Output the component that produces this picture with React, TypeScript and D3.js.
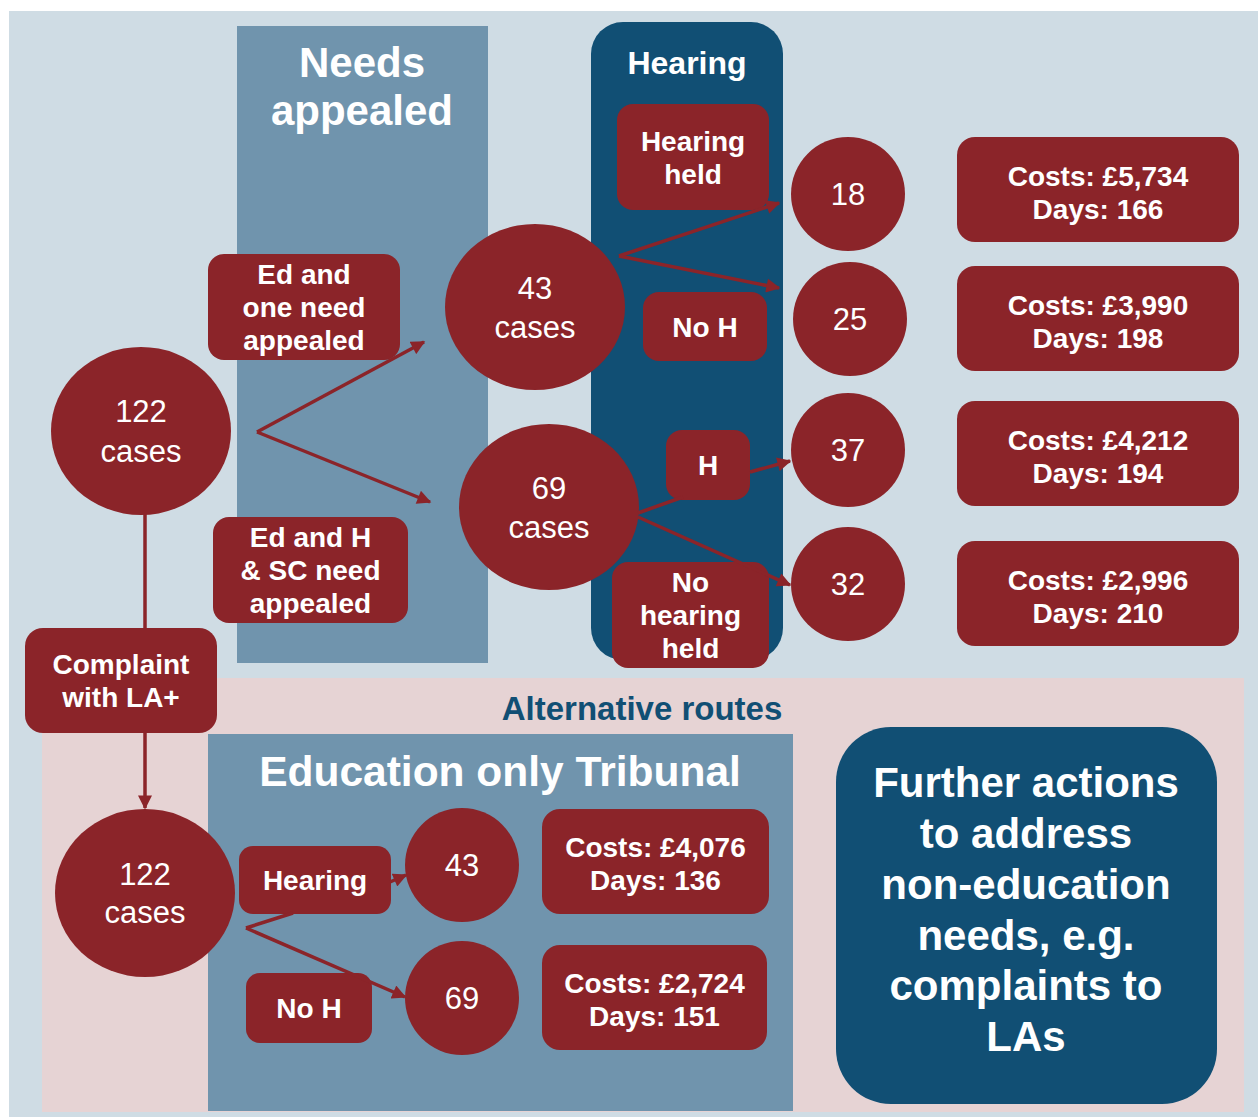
import React from "react";
import * as d3 from "d3";

// ---- Data ----
const topRoot = { value: 122, label: "cases" };
const needBranches = ["Ed and one need appealed", "Ed and H & SC need appealed"];
const needCases = [43, 69];
const hearingLabels = ["Hearing held", "No H", "H", "No hearing held"];
const outcomeCases = [18, 25, 37, 32];
const outcomeCosts = ["£5,734", "£3,990", "£4,212", "£2,996"];
const outcomeDays = [166, 198, 194, 210];
const complaintLabel = "Complaint with LA+";
const bottomRoot = { value: 122, label: "cases" };
const eduLabels = ["Hearing", "No H"];
const eduCases = [43, 69];
const eduCosts = ["£4,076", "£2,724"];
const eduDays = [136, 151];
const titles = {
  needs: ["Needs", "appealed"],
  hearing: "Hearing",
  alt: "Alternative routes",
  edu: "Education only Tribunal",
  further: ["Further actions", "to address", "non-education", "needs, e.g.", "complaints to", "LAs"],
};

const RED = "#8b2429";
const DARK = "#114f74";
const MID = "#7094ad";
const LIGHT = "#cfdce4";
const PINK = "#e6d3d4";
const FONT = "'Liberation Sans', Arial, sans-serif";

type TextProps = { cx: number; cy: number; lines: string[]; size: number; lh: number; bold?: boolean; fill?: string };
function MText({ cx, cy, lines, size, lh, bold = true, fill = "#fff" }: TextProps) {
  const n = lines.length;
  return (
    <g>
      {lines.map((l, i) => (
        <text
          key={i}
          x={cx}
          y={cy + (i - (n - 1) / 2) * lh + size * 0.36}
          textAnchor="middle"
          fontFamily={FONT}
          fontWeight={bold ? 700 : 400}
          fontSize={size}
          fill={fill}
        >
          {l}
        </text>
      ))}
    </g>
  );
}

function Box({ x, y, w, h, r = 16, lines, size = 28, lh = 33, cyOff = 0 }: any) {
  return (
    <g>
      <rect x={x} y={y} width={w} height={h} rx={r} fill={RED} />
      <MText cx={x + w / 2} cy={y + h / 2 + cyOff} lines={lines} size={size} lh={lh} />
    </g>
  );
}

function Circ({ cx, cy, rx, ry, lines, size = 31, lh = 39 }: any) {
  return (
    <g>
      <ellipse cx={cx} cy={cy} rx={rx} ry={ry} fill={RED} />
      <MText cx={cx} cy={cy} lines={lines} size={size} lh={lh} bold={false} />
    </g>
  );
}

const line = d3.line<[number, number]>();

function splitTwo(s: string): string[] {
  if (s === "Ed and one need appealed") return ["Ed and", "one need", "appealed"];
  if (s === "Ed and H & SC need appealed") return ["Ed and H", "& SC need", "appealed"];
  if (s === "Hearing held") return ["Hearing", "held"];
  if (s === "No hearing held") return ["No", "hearing", "held"];
  if (s === "Complaint with LA+") return ["Complaint", "with LA+"];
  return [s];
}

export default function App() {
  const arrows: { pts: [number, number][]; head: boolean }[] = [
    { pts: [[257, 432], [424, 342]], head: true },
    { pts: [[257, 432], [430, 502]], head: true },
    { pts: [[619, 256], [779, 203]], head: true },
    { pts: [[619, 256], [779, 288]], head: true },
    { pts: [[638, 513], [683, 497]], head: false },
    { pts: [[750, 472], [790, 461]], head: true },
    { pts: [[638, 517], [790, 585]], head: true },
    { pts: [[145, 512], [145, 630]], head: false },
    { pts: [[145, 732], [145, 808]], head: true },
    { pts: [[246, 928], [293, 913]], head: false },
    { pts: [[246, 928], [405, 997]], head: true },
    { pts: [[390, 882], [406, 875]], head: true },
  ];

  const outY = [194, 319, 450, 584];
  const outX = [848, 850, 848, 848];
  const costY = [137, 266, 401, 541];
  const eduY = [865, 998];
  const eduCostY = [809, 945];

  return (
    <svg width={1258} height={1117} style={{ position: "absolute", left: 0, top: 0 }}>
      <defs>
        <marker id="ah" viewBox="0 0 10 10" refX="9" refY="5" markerWidth="4.2" markerHeight="4" orient="auto" markerUnits="strokeWidth">
          <path d="M0,0 L10,5 L0,10 z" fill={RED} />
        </marker>
      </defs>
      <rect x={0} y={0} width={1258} height={1117} fill="#fff" />
      <rect x={9} y={11} width={1249} height={1106} fill={LIGHT} />
      <rect x={42} y={678} width={1202} height={434} fill={PINK} />
      {/* Needs appealed panel */}
      <rect x={237} y={26} width={251} height={637} fill={MID} />
      <MText cx={362} cy={86} lines={titles.needs} size={42} lh={48} />
      {/* Hearing panel */}
      <rect x={591} y={22} width={192} height={638} rx={32} fill={DARK} />
      <MText cx={687} cy={62} lines={[titles.hearing]} size={32} lh={36} />
      {/* Alternative routes */}
      <MText cx={642} cy={708} lines={[titles.alt]} size={33} lh={36} fill={DARK} />
      {/* Education only panel */}
      <rect x={208} y={734} width={585} height={377} fill={MID} />
      <MText cx={500} cy={771} lines={[titles.edu]} size={42.5} lh={46} />
      {/* Further actions */}
      <rect x={836} y={727} width={381} height={377} rx={55} fill={DARK} />
      <MText cx={1026} cy={909} lines={titles.further} size={42} lh={50.8} />

      {/* Top root */}
      <Circ cx={141} cy={431} rx={90} ry={84} lines={[String(topRoot.value), topRoot.label]} lh={40} />
      <Box x={208} y={254} w={192} h={106} lines={splitTwo(needBranches[0])} />
      <Box x={213} y={517} w={195} h={106} lines={splitTwo(needBranches[1])} />
      <Circ cx={535} cy={307} rx={90} ry={83} lines={[String(needCases[0]), "cases"]} />
      <Circ cx={549} cy={507} rx={90} ry={83} lines={[String(needCases[1]), "cases"]} />

      <Box x={617} y={104} w={152} h={106} lines={splitTwo(hearingLabels[0])} />
      <Box x={643} y={292} w={124} h={69} lines={splitTwo(hearingLabels[1])} />
      <Box x={666} y={430} w={84} h={70} lines={splitTwo(hearingLabels[2])} />
      <Box x={612} y={562} w={157} h={106} lines={splitTwo(hearingLabels[3])} />

      {outcomeCases.map((v, i) => (
        <Circ key={"o" + i} cx={outX[i]} cy={outY[i]} rx={57} ry={57} lines={[String(v)]} />
      ))}
      {outcomeCosts.map((c, i) => (
        <Box key={"c" + i} x={957} y={costY[i]} w={282} h={105} r={18} lines={["Costs: " + c, "Days: " + outcomeDays[i]]} cyOff={3} />
      ))}

      <Box x={25} y={628} w={192} h={105} r={18} lines={splitTwo(complaintLabel)} />
      <Circ cx={145} cy={893} rx={90} ry={84} lines={[String(bottomRoot.value), bottomRoot.label]} lh={38} />
      <Box x={239} y={846} w={152} h={68} r={14} lines={[eduLabels[0]]} />
      <Box x={246} y={973} w={126} h={70} r={14} lines={[eduLabels[1]]} />
      {eduCases.map((v, i) => (
        <Circ key={"e" + i} cx={462} cy={eduY[i]} rx={57} ry={57} lines={[String(v)]} />
      ))}
      {eduCosts.map((c, i) => (
        <Box key={"ec" + i} x={542} y={eduCostY[i]} w={i === 0 ? 227 : 225} h={105} r={18} lines={["Costs: " + c, "Days: " + eduDays[i]]} cyOff={2} />
      ))}

      {arrows.map((a, i) => (
        <path
          key={"a" + i}
          d={line(a.pts) || ""}
          stroke={RED}
          strokeWidth={3.5}
          fill="none"
          markerEnd={a.head ? "url(#ah)" : undefined}
        />
      ))}
    </svg>
  );
}
